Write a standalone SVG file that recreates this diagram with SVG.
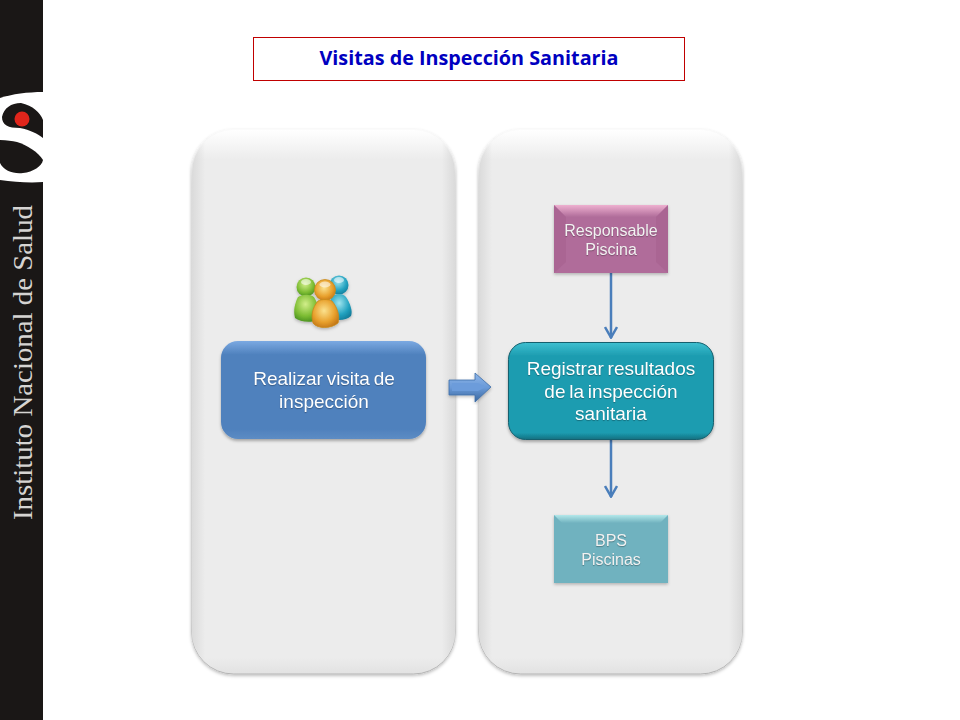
<svg xmlns="http://www.w3.org/2000/svg" width="960" height="720" viewBox="0 0 960 720">
<style>
.t{font-family:"Liberation Sans",Arial,sans-serif;fill:#fff;text-anchor:middle;text-shadow:0 1px 1px rgba(0,0,0,.3)}
.big{font-size:19px;word-spacing:-1.5px}
.small{font-size:16px;fill:#f2f2f2;word-spacing:-1px}
.conn{fill:none;stroke:#4a7ebb;stroke-width:2.5px}
.gloss{fill:#fff;opacity:.55}
</style>
<defs>
<linearGradient id="panelEdge" x1="0" y1="0" x2="0" y2="1">
<stop offset="0" stop-color="#ffffff"/><stop offset="0.055" stop-color="#ececec"/><stop offset="0.97" stop-color="#ececec"/><stop offset="1" stop-color="#e2e2e2"/>
</linearGradient>
<linearGradient id="panelLine" x1="0" y1="0" x2="0" y2="1">
<stop offset="0" stop-color="#fbfbfb"/><stop offset="0.1" stop-color="#dcdcdc"/><stop offset="0.9" stop-color="#cfcfcf"/><stop offset="1" stop-color="#b4b4b4"/>
</linearGradient>
<linearGradient id="panelSide" x1="0" y1="0" x2="1" y2="0">
<stop offset="0" stop-color="#d6d6d6" stop-opacity="0.8"/><stop offset="0.05" stop-color="#d6d6d6" stop-opacity="0"/><stop offset="0.95" stop-color="#d6d6d6" stop-opacity="0"/><stop offset="1" stop-color="#d6d6d6" stop-opacity="0.8"/>
</linearGradient>
<linearGradient id="blue" x1="0" y1="0" x2="0" y2="1">
<stop offset="0" stop-color="#7ba9e2"/><stop offset="0.14" stop-color="#4f81bd"/><stop offset="0.9" stop-color="#4f81bd"/><stop offset="1" stop-color="#5d8cc4"/>
</linearGradient>
<linearGradient id="teal" x1="0" y1="0" x2="0" y2="1">
<stop offset="0" stop-color="#3fc0d0"/><stop offset="0.14" stop-color="#1c9cb0"/><stop offset="0.93" stop-color="#1c9cb0"/><stop offset="1" stop-color="#137080"/>
</linearGradient>
<linearGradient id="pinkTop" x1="0" y1="0" x2="0" y2="1">
<stop offset="0" stop-color="#eeb0d0"/><stop offset="1" stop-color="#b06c9a"/>
</linearGradient>
<linearGradient id="cyanTop" x1="0" y1="0" x2="0" y2="1">
<stop offset="0" stop-color="#b4e8ea"/><stop offset="1" stop-color="#70b2bf"/>
</linearGradient>
<linearGradient id="arrowFill" x1="0" y1="0" x2="0" y2="1">
<stop offset="0" stop-color="#8db5e8"/><stop offset="0.5" stop-color="#6a9ad8"/><stop offset="1" stop-color="#3a679e"/>
</linearGradient>
<radialGradient id="gG" cx="0.45" cy="0.35" r="0.8"><stop offset="0" stop-color="#d2ee8a"/><stop offset="0.55" stop-color="#7cbc32"/><stop offset="1" stop-color="#2f7a18"/></radialGradient>
<radialGradient id="gB" cx="0.45" cy="0.35" r="0.8"><stop offset="0" stop-color="#9fe4ee"/><stop offset="0.55" stop-color="#22a2c0"/><stop offset="1" stop-color="#0c6a88"/></radialGradient>
<radialGradient id="gO" cx="0.45" cy="0.4" r="0.75"><stop offset="0" stop-color="#fbe28e"/><stop offset="0.55" stop-color="#e8a02c"/><stop offset="1" stop-color="#b0620e"/></radialGradient>
<filter id="sh" x="-10%" y="-10%" width="120%" height="120%"><feDropShadow dx="0" dy="2" stdDeviation="1.500" flood-color="#000" flood-opacity="0.3"/></filter>
<filter id="shS" x="-10%" y="-10%" width="120%" height="120%"><feDropShadow dx="0" dy="1.500" stdDeviation="1.500" flood-color="#000" flood-opacity="0.25"/></filter>
<marker id="arr" viewBox="0 0 14 14" refX="13" refY="7" markerWidth="14" markerHeight="14" markerUnits="userSpaceOnUse" orient="auto">
<path d="M2 1 L12.500 7 L2 13" fill="none" stroke="#4a7ebb" stroke-width="2.500"/>
</marker>
</defs>
<rect width="960" height="720" fill="#fff"/>
<g id="sidebar">
<rect x="0" y="0" width="43" height="720" fill="#1a1716"/>
<path d="M43 92 C28 92 12 94 0 98 V180 C14 182 30 183 43 182 Z" fill="#fff"/>
<path d="M43 120 C40 112 33 106 21 103 C11 103 4 108 2 117 C2 125 8 128 20 128 C30 130 38 134 43 138 Z" fill="#1a1716"/>
<path d="M0 140 C7 140 12 141 17 142 C27 145 38 152 43 160 C42 166 33 172 23 173 C13 174 4 171 0 163 Z" fill="#1a1716"/>
<circle cx="22" cy="119" r="7.500" fill="#e1251b"/>
<text transform="translate(32 520) rotate(-90)" font-family="'Liberation Serif','Times New Roman',serif" font-size="27" fill="#d6d4d2" textLength="315" lengthAdjust="spacingAndGlyphs">Instituto Nacional de Salud</text>
</g>
<g id="title">
<rect x="253.500" y="37.500" width="431" height="43" fill="#fff" stroke="#c00000" stroke-width="1"/>
<text x="469" y="65" font-family="'Open Sans','Noto Sans',sans-serif" font-weight="700" font-size="20" fill="#0000c0" text-anchor="middle" textLength="299" lengthAdjust="spacingAndGlyphs">Visitas de Inspección Sanitaria</text>
</g>
<g id="panel-left" filter="url(#shS)">
<rect x="191.500" y="129.500" width="264" height="544.500" rx="42" fill="url(#panelEdge)" stroke="url(#panelLine)"/>
<rect x="192" y="130" width="263" height="543.500" rx="42" fill="url(#panelSide)"/>
</g>
<g id="panel-right" filter="url(#shS)">
<rect x="478.500" y="129.500" width="264" height="544.500" rx="42" fill="url(#panelEdge)" stroke="url(#panelLine)"/>
<rect x="479" y="130" width="263" height="543.500" rx="42" fill="url(#panelSide)"/>
</g>
<g id="people-icon" filter="url(#shS)">
<circle cx="339" cy="285" r="9.500" fill="url(#gB)"/>
<ellipse class="gloss" cx="339" cy="280" rx="5" ry="3"/>
<path d="M331 297 C336 293 343 293 346 297 C350 303 353 311 351 316 C346 321 336 321 329 318 Z" fill="url(#gB)"/>
<circle cx="306" cy="287" r="9.500" fill="url(#gG)"/>
<ellipse class="gloss" cx="306" cy="282" rx="5" ry="3"/>
<path d="M298 297 C303 294 310 294 314 297 C318 303 320 312 319 320 C310 323 300 322 295 318 C293 310 295 303 298 297 Z" fill="url(#gG)"/>
<circle cx="325" cy="290" r="10.500" fill="url(#gO)" stroke="#c98a1c" stroke-width="0.800"/>
<ellipse class="gloss" cx="325" cy="284.500" rx="5.500" ry="3"/>
<path d="M318 301 C322 299 328 299 332 301 C338 308 340 317 338 323 C331 329 317 329 313 323 C311 316 312 308 318 301 Z" fill="url(#gO)" stroke="#c98a1c" stroke-width="0.800"/>
</g>
<g id="connectors">
<path class="conn" d="M611 273 V338" marker-end="url(#arr)"/>
<path class="conn" d="M611 440 V497" marker-end="url(#arr)"/>
</g>
<g id="block-arrow" filter="url(#shS)">
<path d="M449 380 H475 V373 L491 387 L475 402 V395 H449 Z" fill="url(#arrowFill)" stroke="#3f6ea8" stroke-width="0.800"/>
<path d="M452 383 H478 L486 387 L478 391 H452 Z" fill="#6c9cdb"/>
</g>
<g id="node-realizar" filter="url(#sh)">
<rect x="221" y="341" width="205" height="98" rx="17" fill="url(#blue)"/>
<text class="t big" x="324" y="385">Realizar visita de</text>
<text class="t big" x="324" y="408">inspección</text>
</g>
<g id="node-registrar" filter="url(#sh)">
<rect x="508.500" y="342.500" width="205" height="97" rx="17" fill="url(#teal)" stroke="#15606e" stroke-width="1"/>
<text class="t big" x="611" y="375">Registrar resultados</text>
<text class="t big" x="611" y="398">de la inspección</text>
<text class="t big" x="611" y="420">sanitaria</text>
</g>
<g id="node-responsable" filter="url(#shS)">
<rect x="554" y="205" width="114" height="68" fill="#b06c9a"/>
<path d="M554 205 H668 L656 217 H566 Z" fill="url(#pinkTop)"/>
<path d="M554 205 L566 217 V262 L554 273 Z" fill="#9c5585" opacity="0.3"/>
<path d="M668 205 L656 217 V262 L668 273 Z" fill="#9c5585" opacity="0.3"/>
<text class="t small" x="611" y="236">Responsable</text>
<text class="t small" x="611" y="255">Piscina</text>
</g>
<g id="node-bps" filter="url(#shS)">
<rect x="554" y="515" width="114" height="68" fill="#70b2bf"/>
<path d="M554 515 H668 L660 523 H562 Z" fill="url(#cyanTop)"/>
<text class="t small" x="611" y="546">BPS</text>
<text class="t small" x="611" y="565">Piscinas</text>
</g>
</svg>
